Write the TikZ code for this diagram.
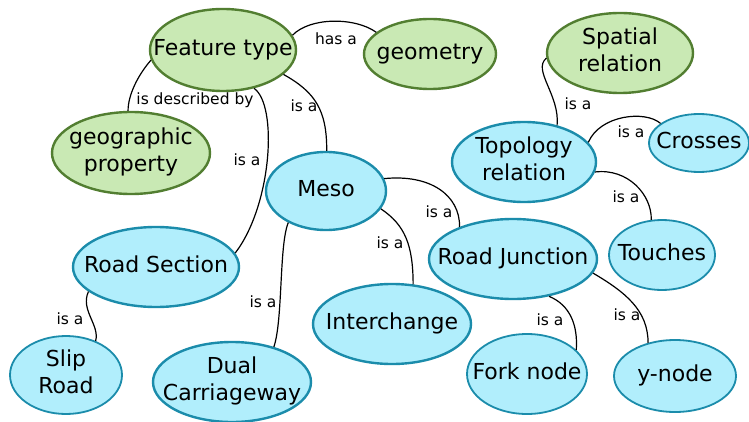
\documentclass[tikz,border=0pt]{standalone}
\usepackage{fontspec}
\setmainfont{DejaVu Sans}
\usetikzlibrary{shapes.geometric}
\definecolor{gfill}{HTML}{C9E9B4}
\definecolor{gdraw}{HTML}{527E31}
\definecolor{bfill}{HTML}{B1EEFC}
\definecolor{bdraw}{HTML}{1B8CAB}
\newcommand{\ztext}[1]{\makebox[0pt]{\begin{tabular}{@{}c@{}}#1\end{tabular}}}
\begin{document}
\begin{tikzpicture}[x=1pt,y=-1pt,
  concept/.style={ellipse, inner sep=0pt, font=\fontsize{22}{27}\selectfont, line width=2.4pt},
  greenc/.style={concept, fill=gfill, draw=gdraw},
  bluec/.style={concept, fill=bfill, draw=bdraw},
  thinb/.style={line width=1.8pt},
  link/.style={line width=1.2pt, draw=black},
  lbl/.style={font=\fontsize{15.5}{18}\selectfont, inner sep=0pt, text height=11pt, text depth=3pt}]
\fill[white] (0,0) rectangle (749,422);
\useasboundingbox (0,0) rectangle (749,422);
% concepts
\node[greenc, minimum width=146, minimum height=82] (ft) at (223,50) {\ztext{Feature type}};
\node[greenc, minimum width=132, minimum height=70] (geo) at (430,54) {\ztext{geometry}};
\node[greenc, minimum width=146, minimum height=80] (spr) at (620,53) {\ztext{Spatial\\relation}};
\node[greenc, minimum width=158, minimum height=82] (gp) at (131,153) {\ztext{geographic\\property}};
\node[bluec, minimum width=120, minimum height=78] (meso) at (326,191) {\ztext{Meso}};
\node[bluec, minimum width=144, minimum height=80] (tr) at (524,162) {\ztext{Topology\\relation}};
\node[bluec, thinb, minimum width=100, minimum height=58] (cr) at (699,143) {\ztext{Crosses}};
\node[bluec, minimum width=166, minimum height=80] (rs) at (156,267) {\ztext{Road Section}};
\node[bluec, thinb, minimum width=112, minimum height=78] (sr) at (66,375) {\ztext{Slip\\Road}};
\node[bluec, minimum width=158, minimum height=80] (dc) at (232,382) {\ztext{Dual\\Carriageway}};
\node[bluec, minimum width=158, minimum height=80] (ic) at (392,324) {\ztext{Interchange}};
\node[bluec, minimum width=168, minimum height=80] (rj) at (513,259) {\ztext{Road Junction}};
\node[bluec, thinb, minimum width=106, minimum height=70] (to) at (662,255) {\ztext{Touches}};
\node[bluec, thinb, minimum width=120, minimum height=80] (fn) at (527,374) {\ztext{Fork node}};
\node[bluec, thinb, minimum width=122, minimum height=72] (yn) at (675,376) {\ztext{y-node}};
% connectors
\draw[link] (ft.12) .. controls (310,17) and (355,17) .. (geo.158);
\draw[link] (ft.188) .. controls (138,75) and (128,95) .. (gp.94);
\draw[link] (ft.-51) .. controls (278,105) and (272,205) .. (rs.10);
\draw[link] (ft.-22) .. controls (315,92) and (327,110) .. (meso.89);
\draw[link] (meso.12) .. controls (430,174) and (460,195) .. (rj.149);
\draw[link] (meso.-18) .. controls (405,225) and (413,245) .. (ic.62);
\draw[link] (meso.220) .. controls (279,245) and (283,320) .. (dc.40);
\draw[link] (rs.200) .. controls (80,310) and (100,325) .. (sr.49);
\draw[link] (spr.184) .. controls (532,70) and (560,95) .. (tr.48);
\draw[link] (tr.17) .. controls (600,115) and (645,110) .. (cr.153);
\draw[link] (tr.-8) .. controls (628,168) and (652,195) .. (to.107);
\draw[link] (rj.-46) .. controls (570,305) and (578,325) .. (fn.26);
\draw[link] (rj.-10) .. controls (625,292) and (648,310) .. (yn.129);
% labels
\node[lbl] (l1) at (336,41) {has a};
\node[lbl] (l2) at (195,101) {is described by};
\node[lbl] (l3) at (247,162) {is a};
\node[lbl] (l4) at (304,108) {is a};
\node[lbl] (l5) at (439,213) {is a};
\node[lbl] (l6) at (390,244) {is a};
\node[lbl] (l7) at (263,303) {is a};
\node[lbl] (l8) at (70,320) {is a};
\node[lbl] (l9) at (578,106) {is a};
\node[lbl] (l10) at (631,134) {is a};
\node[lbl] (l11) at (626,198) {is a};
\node[lbl] (l12) at (550,321) {is a};
\node[lbl] (l13) at (627,316) {is a};
\end{tikzpicture}
\end{document}
